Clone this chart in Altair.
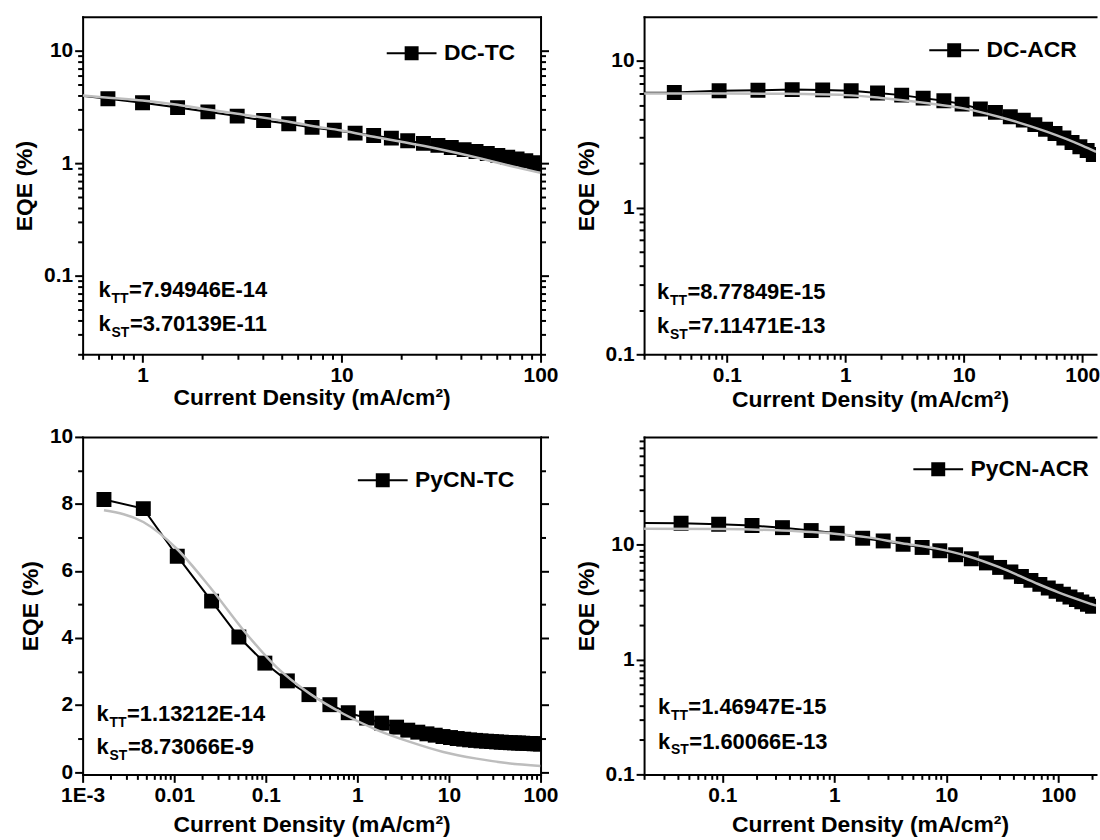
import altair as alt
import pandas as pd

FONT = "Liberation Sans"

# ---------------- data ----------------
# DC-TC
dctc_x = [0.45, 0.67, 1.0, 1.5, 2.13, 2.99, 4.06, 5.43, 7.11, 9.2, 11.7, 14.5, 17.8, 21.5,
          25.8, 30.5, 35.6, 41.3, 47.4, 54, 61, 68.4, 76.2, 84.3, 92.9, 100]
dctc_y = [4.05, 3.74, 3.45, 3.12, 2.86, 2.62, 2.40, 2.24, 2.08, 1.96, 1.85, 1.76, 1.67, 1.58,
          1.50, 1.44, 1.38, 1.32, 1.27, 1.22, 1.17, 1.13, 1.09, 1.05, 1.01, 0.98]
dctc_fit_x = [0.5, 0.7, 1, 1.5, 2, 3, 5, 7, 10, 15, 20, 30, 50, 70, 100]
dctc_fit_y = [4.0, 3.8, 3.6, 3.3, 3.05, 2.75, 2.4, 2.15, 1.95, 1.7, 1.55, 1.35, 1.1, 0.95, 0.82]

# DC-ACR
dcacr_x = [0.015, 0.036, 0.086, 0.183, 0.356, 0.644, 1.12, 1.87, 2.99, 4.54, 6.79, 9.68, 13.8,
           18.5, 24.7, 31.8, 39.8, 49, 58.9, 70, 82, 95.5, 110, 124]
dcacr_y = [6.05, 6.10, 6.26, 6.32, 6.38, 6.35, 6.26, 6.04, 5.85, 5.58, 5.35, 5.08, 4.70,
           4.46, 4.17, 3.95, 3.68, 3.42, 3.20, 2.98, 2.78, 2.60, 2.45, 2.30]
dcacr_fit_x = [0.02, 0.1, 0.3, 1, 2, 5, 10, 20, 50, 100, 131]
dcacr_fit_y = [6.0, 6.0, 5.97, 5.85, 5.6, 5.15, 4.75, 4.15, 3.3, 2.65, 2.4]

# PyCN-TC
pycntc_x = [0.00171, 0.0046, 0.0108, 0.0256, 0.0508, 0.0977, 0.172, 0.296, 0.501, 0.795, 1.26,
            1.84, 2.68, 3.55, 4.57, 5.75, 7.08, 8.6, 10.4, 12.3, 14.5, 16.8, 19.5, 22.4, 25.7,
            29.2, 33.1, 37.2, 41.7, 46.8, 51.9, 57.5, 63.8, 70.8, 77.6, 85.1, 93.3, 100]
pycntc_y = [8.13, 7.86, 6.44, 5.10, 4.03, 3.25, 2.72, 2.31, 2.01, 1.77, 1.61,
            1.46, 1.34, 1.25, 1.19, 1.14, 1.10, 1.06, 1.03, 1.00, 0.98, 0.96, 0.945, 0.93, 0.92,
            0.91, 0.90, 0.89, 0.885, 0.875, 0.87, 0.865, 0.86, 0.855, 0.85, 0.845, 0.84, 0.835]
pycntc_fit_x = [0.00171, 0.0046, 0.0106, 0.0245, 0.0567, 0.131, 0.302, 0.70, 1.62, 3.75, 8.68,
                20.1, 42.6, 100]
pycntc_fit_y = [7.81, 7.46, 6.67, 5.52, 4.24, 3.13, 2.34, 1.74, 1.26, 0.90, 0.60, 0.40, 0.27, 0.18]

# PyCN-ACR
pycnacr_x = [0.015, 0.0428, 0.0927, 0.184, 0.344, 0.621, 1.06, 1.79, 2.73, 4.11, 6.08, 8.74,
             12.1, 16.7, 22.8, 29.9, 37.7, 46.8, 56.9, 68.4, 81.3, 95.5, 111, 127, 145, 162,
             182, 202]
pycnacr_y = [15.5, 15.4, 15.1, 14.7, 14.1, 13.3, 12.6, 11.4, 10.8, 10.1, 9.48, 8.87,
             8.19, 7.55, 6.95, 6.35, 5.80, 5.30, 4.90, 4.52, 4.20, 3.94, 3.71, 3.51, 3.33, 3.18,
             3.03, 2.91]
pycnacr_fit_x = [0.02, 0.1, 0.34, 1.0, 2, 4, 8, 15.6, 30, 61, 100, 196, 217]
pycnacr_fit_y = [13.8, 13.7, 13.3, 12.5, 11.6, 10.3, 9.3, 7.95, 6.35, 4.7, 3.85, 3.05, 2.95]

names = ["DC-TC", "DC-ACR", "PyCN-TC", "PyCN-ACR"]
k_tt = ["7.94946E-14", "8.77849E-15", "1.13212E-14", "1.46947E-15"]
k_st = ["3.70139E-11", "7.11471E-13", "8.73066E-9", "1.60066E-13"]

x_title = "Current Density (mA/cm\u00b2)"
y_title = "EQE (%)"

# ---------------- helpers ----------------
def log_ticks(e0, e1, lo, hi):
    vals = [round(m * 10 ** e, 10) for e in range(e0, e1) for m in range(1, 10)] + [10 ** e1]
    return [v for v in vals if lo - 1e-12 <= v <= hi + 1e-12]


def label_expr(labels):
    expr = "''"
    for v, s in reversed(list(labels.items())):
        expr = f"datum.value == {v} ? '{s}' : ({expr})"
    return expr


def tick_size(majors, big=8, small=5):
    arr = ",".join(str(m) for m in majors)
    return {"condition": {"test": f"indexof([{arr}], datum.value) >= 0", "value": big},
            "value": small}


common_axis = dict(grid=False, domainColor="black", domainWidth=2, domainCap="square",
                   tickColor="black", tickWidth=2, labelFont=FONT, labelFontSize=21,
                   labelFontWeight="bold", labelColor="black", labelOverlap=False,
                   labelFlush=False, titleFont=FONT, titleFontSize=23, titleFontWeight="bold",
                   titleColor="black")

SYMBOL = "M-2,-0.08H2V0.08H-2Z M-0.56,-0.56H0.56V0.56H-0.56Z"

panels = [
    dict(x=dctc_x, y=dctc_y, fx=dctc_fit_x, fy=dctc_fit_y, w=460,
         xdom=[0.5, 100], xt=log_ticks(-1, 2, 0.5, 100), xl={1: "1", 10: "10", 100: "100"},
         ylog=True, ydom=[0.02, 20], yt=log_ticks(-2, 1, 0.02, 20), yl={0.1: "0.1", 1: "1", 10: "10"},
         right=True, leg=(318, 24), ann=(16, 281, 316), tpad=1),
    dict(x=dcacr_x, y=dcacr_y, fx=dcacr_fit_x, fy=dcacr_fit_y, w=454,
         xdom=[0.02, 130.7], xt=log_ticks(-2, 2, 0.02, 130.7),
         xl={0.1: "0.1", 1: "1", 10: "10", 100: "100"},
         ylog=True, ydom=[0.1, 20], yt=log_ticks(-1, 1, 0.1, 20), yl={0.1: "0.1", 1: "1", 10: "10"},
         right=False, leg=(299, 21), ann=(13, 283, 318), tpad=3),
    dict(x=pycntc_x, y=pycntc_y, fx=pycntc_fit_x, fy=pycntc_fit_y, w=460,
         xdom=[0.001, 100], xt=log_ticks(-3, 2, 0.001, 100),
         xl={0.001: "1E-3", 0.01: "0.01", 0.1: "0.1", 1: "1", 10: "10", 100: "100"},
         ylog=False, ydom=[-0.07, 10], yt=list(range(0, 11)),
         yl={0: "0", 2: "2", 4: "4", 6: "6", 8: "8", 10: "10"},
         right=True, leg=(289, 31), ann=(14, 285, 319), tpad=8),
    dict(x=pycnacr_x, y=pycnacr_y, fx=pycnacr_fit_x, fy=pycnacr_fit_y, w=454,
         xdom=[0.02, 217], xt=log_ticks(-2, 3, 0.02, 217),
         xl={0.1: "0.1", 1: "1", 10: "10", 100: "100"},
         ylog=True, ydom=[0.1, 87], yt=log_ticks(-1, 2, 0.1, 87), yl={0.1: "0.1", 1: "1", 10: "10"},
         right=False, leg=(283, 20), ann=(14, 278, 313), tpad=8),
]

H = 339


def text_layer(s, dx, dy, size):
    return alt.Chart(pd.DataFrame({"t": [s]})).mark_text(
        align="left", baseline="alphabetic", font=FONT, fontWeight="bold",
        fontSize=size, color="black").encode(x=alt.value(dx), y=alt.value(dy), text="t:N")


def make_panel(i):
    p = panels[i]
    name = names[i]
    df = pd.DataFrame({"x": p["x"], "y": p["y"], "series": name})
    fit = pd.DataFrame({"x": p["fx"], "y": p["fy"]})
    xs = alt.Scale(type="log", domain=p["xdom"], nice=False)
    if p["ylog"]:
        ys = alt.Scale(type="log", domain=p["ydom"], nice=False)
    else:
        ys = alt.Scale(type="linear", domain=p["ydom"], nice=False, zero=False)

    xb = alt.Axis(orient="bottom", values=p["xt"], labelExpr=label_expr(p["xl"]),
                  tickSize=tick_size(list(p["xl"].keys())), labelPadding=2,
                  title=x_title, titlePadding=p["tpad"], **common_axis)
    yl = alt.Axis(orient="left", values=p["yt"], labelExpr=label_expr(p["yl"]),
                  tickSize=tick_size(list(p["yl"].keys())), labelPadding=2,
                  title=y_title, titlePadding=7, **common_axis)
    xt = alt.Axis(orient="top", labels=False, ticks=False, title=None, **common_axis)
    if p["right"]:
        yr = alt.Axis(orient="right", values=p["yt"], labels=False, title=None,
                      tickSize=tick_size(list(p["yl"].keys())), **common_axis)
    else:
        yr = alt.Axis(orient="right", domain=False, ticks=False, labels=False, title=None,
                      grid=False)

    line = alt.Chart(df).mark_line(color="black", strokeWidth=2, clip=True).encode(
        x=alt.X("x:Q", scale=xs, axis=xb), y=alt.Y("y:Q", scale=ys, axis=yl))
    pts = alt.Chart(df).mark_point(shape="square", filled=True, size=225, opacity=1,
                                   clip=True).encode(
        x=alt.X("x:Q", scale=xs, axis=None), y=alt.Y("y:Q", scale=ys, axis=None),
        color=alt.Color("series:N", scale=alt.Scale(domain=[name], range=["black"]),
                        legend=alt.Legend(orient="none", legendX=p["leg"][0], legendY=p["leg"][1],
                                          title=None, symbolType=SYMBOL, symbolSize=625,
                                          symbolFillColor="black", symbolStrokeWidth=0,
                                          symbolOpacity=1, labelFont=FONT, labelFontSize=23,
                                          labelFontWeight="bold", labelColor="black",
                                          labelOffset=20, padding=0)))
    fitl = alt.Chart(fit).mark_line(color="#bdbdbd", strokeWidth=2.5, clip=True,
                                    interpolate="monotone").encode(
        x=alt.X("x:Q", scale=xs, axis=xt),
        y=alt.Y("y:Q", scale=ys, axis=yr))

    dx, dy1, dy2 = p["ann"]
    ann = [
        text_layer("k", dx, dy1, 22), text_layer("TT", dx + 13, dy1 + 6, 14),
        text_layer("=" + k_tt[i], dx + 30.5, dy1, 22),
        text_layer("k", dx, dy2, 22), text_layer("ST", dx + 13, dy2 + 6, 14),
        text_layer("=" + k_st[i], dx + 31.5, dy2, 22),
    ]
    return alt.layer(line, pts, fitl, *ann).properties(width=p["w"], height=H)


chart = alt.concat(
    *[make_panel(i) for i in range(4)], columns=2,
    spacing=alt.RowColnumber(row=83, column=104), bounds="flush"
).resolve_scale(x="independent", y="independent", color="independent").resolve_legend(
    color="independent"
).properties(
    padding={"left": 13, "top": 15, "right": 0, "bottom": 0}
).configure_view(stroke=None)

chart.save("out.html", embed_options={"renderer": "svg", "actions": False})
